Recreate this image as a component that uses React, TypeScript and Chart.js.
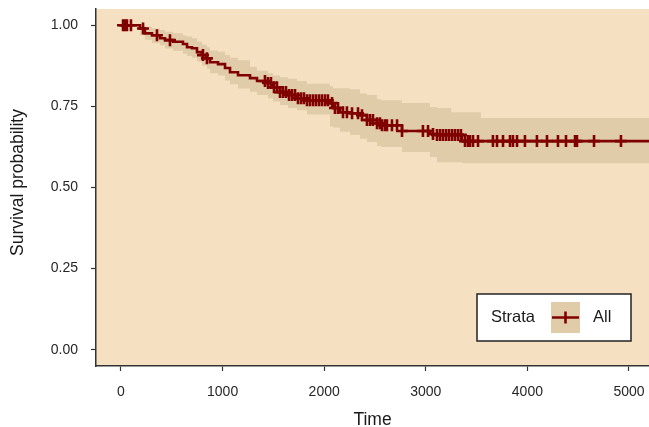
import React, { useEffect, useRef } from "react";
import { Chart, registerables } from "chart.js";

Chart.register(...registerables);

// ---- data ----
const curveTimes = [0, 187, 236, 305, 384, 433, 512, 610, 650, 699, 748, 797, 846, 876, 955, 1024, 1073, 1152, 1270, 1339, 1447, 1496, 1565, 1644, 1732, 1831, 2057, 2087, 2156, 2254, 2352, 2421, 2520, 2560, 2766, 3041, 3110, 3356, 5197];
const curveSurv = [1, 0.99, 0.975, 0.969, 0.96, 0.954, 0.949, 0.942, 0.932, 0.929, 0.917, 0.908, 0.898, 0.886, 0.88, 0.868, 0.855, 0.846, 0.837, 0.828, 0.822, 0.809, 0.794, 0.785, 0.775, 0.769, 0.76, 0.745, 0.732, 0.729, 0.723, 0.708, 0.698, 0.692, 0.674, 0.665, 0.662, 0.643, 0.643];

const bandTimes = [0, 187, 236, 305, 384, 433, 512, 610, 650, 699, 748, 797, 846, 876, 955, 1024, 1073, 1152, 1270, 1339, 1447, 1496, 1565, 1644, 1732, 1831, 2057, 2087, 2156, 2254, 2352, 2421, 2520, 2560, 2766, 3041, 3110, 3250, 3356, 3543, 5197];
const bandUpper = [1, 1, 0.995, 0.99, 0.985, 0.98, 0.975, 0.968, 0.965, 0.96, 0.95, 0.94, 0.932, 0.922, 0.918, 0.908, 0.9, 0.892, 0.872, 0.86, 0.852, 0.845, 0.84, 0.835, 0.828, 0.82, 0.812, 0.806, 0.806, 0.803, 0.79, 0.785, 0.772, 0.769, 0.76, 0.748, 0.745, 0.732, 0.732, 0.714, 0.714];
const bandLower = [1, 0.969, 0.955, 0.945, 0.938, 0.928, 0.921, 0.912, 0.905, 0.9, 0.888, 0.876, 0.866, 0.852, 0.845, 0.83, 0.818, 0.805, 0.795, 0.785, 0.775, 0.765, 0.754, 0.745, 0.738, 0.725, 0.688, 0.685, 0.672, 0.662, 0.65, 0.64, 0.628, 0.625, 0.609, 0.594, 0.578, 0.578, 0.575, 0.575, 0.575];

const censorTimes = [20, 39, 59, 98, 217, 354, 482, 807, 846, 1417, 1447, 1476, 1506, 1535, 1565, 1594, 1624, 1654, 1683, 1713, 1742, 1772, 1801, 1831, 1860, 1890, 1919, 1949, 1978, 2008, 2037, 2077, 2106, 2136, 2185, 2224, 2274, 2333, 2372, 2421, 2451, 2480, 2520, 2549, 2569, 2598, 2618, 2667, 2717, 2766, 2972, 3022, 3071, 3110, 3140, 3169, 3199, 3228, 3258, 3287, 3317, 3346, 3386, 3415, 3435, 3465, 3514, 3661, 3701, 3760, 3829, 3858, 3898, 3976, 4094, 4193, 4301, 4380, 4469, 4488, 4656, 4921];

const xTickValues = [0, 1000, 2000, 3000, 4000, 5000];
const yTickValues = [0, 0.25, 0.5, 0.75, 1];
const yTickLabels = ["0.00", "0.25", "0.50", "0.75", "1.00"];

const xTitle = "Time";
const yTitle = "Survival probability";
const legendTitle = "Strata";
const legendLabel = "All";

// ---- styles ----
const LINE = "#800000";
const BAND = "#E0CCA9";
const PANEL = "#F5E1C1";
const FONT = '"Liberation Sans", Arial, Helvetica, sans-serif';

function survAt(t: number): number {
  let s = curveSurv[0];
  for (let i = 0; i < curveTimes.length; i++) {
    if (curveTimes[i] <= t) s = curveSurv[i];
    else break;
  }
  return s;
}

const panelPlugin = {
  id: "panelBg",
  beforeDraw(chart: any) {
    const { ctx, chartArea } = chart;
    ctx.save();
    ctx.fillStyle = PANEL;
    ctx.fillRect(chartArea.left, chartArea.top, chartArea.right - chartArea.left, chartArea.bottom - chartArea.top);
    ctx.restore();
  },
};

const yTitlePlugin = {
  id: "yTitle",
  afterDraw(chart: any) {
    const { ctx, chartArea } = chart;
    ctx.save();
    ctx.translate(18, (chartArea.top + chartArea.bottom) / 2 - 5);
    ctx.rotate(-Math.PI / 2);
    ctx.fillStyle = "#1a1a1a";
    ctx.font = "17.5px " + FONT;
    ctx.textAlign = "center";
    ctx.textBaseline = "middle";
    ctx.fillText(yTitle, 0, 0);
    ctx.restore();
  },
};

const legendPlugin = {
  id: "kmLegend",
  afterDraw(chart: any) {
    const { ctx, chartArea } = chart;
    const boxR = chartArea.right - 18;
    const boxB = chartArea.bottom - 25;
    const boxW = 154;
    const boxH = 47;
    const boxL = boxR - boxW;
    const boxT = boxB - boxH;
    const cy = boxT + boxH / 2;
    ctx.save();
    ctx.fillStyle = "#ffffff";
    ctx.fillRect(boxL, boxT, boxW, boxH);
    ctx.strokeStyle = "#222222";
    ctx.lineWidth = 1.5;
    ctx.strokeRect(boxL, boxT, boxW, boxH);
    ctx.fillStyle = "#1a1a1a";
    ctx.font = "16.5px " + FONT;
    ctx.textBaseline = "middle";
    ctx.textAlign = "left";
    ctx.fillText(legendTitle, boxL + 14, cy);
    const keyL = boxL + 74;
    ctx.fillStyle = BAND;
    ctx.fillRect(keyL, boxT + 8, 29, boxH - 16);
    ctx.strokeStyle = LINE;
    ctx.lineWidth = 2.6;
    ctx.beginPath();
    ctx.moveTo(keyL + 1, cy);
    ctx.lineTo(keyL + 28, cy);
    ctx.moveTo(keyL + 14.5, cy - 6);
    ctx.lineTo(keyL + 14.5, cy + 6);
    ctx.stroke();
    ctx.fillStyle = "#1a1a1a";
    ctx.fillText(legendLabel, keyL + 42, cy);
    ctx.restore();
  },
};

function zeroPad(scale: any) {
  scale.paddingTop = 0;
  scale.paddingBottom = 0;
  scale.paddingLeft = 0;
  scale.paddingRight = 0;
}

export default function App() {
  const ref = useRef<HTMLCanvasElement | null>(null);

  useEffect(() => {
    if (!ref.current) return;
    const curve = curveTimes.map((t, i) => ({ x: t, y: curveSurv[i] }));
    const upper = bandTimes.map((t, i) => ({ x: t, y: bandUpper[i] }));
    const lower = bandTimes.map((t, i) => ({ x: t, y: bandLower[i] }));
    const censor = censorTimes.map((t) => ({ x: t, y: survAt(t) }));

    const chart = new Chart(ref.current, {
      type: "line",
      data: {
        datasets: [
          {
            data: upper,
            stepped: true,
            borderWidth: 0,
            borderColor: "rgba(0,0,0,0)",
            backgroundColor: BAND,
            pointRadius: 0,
            fill: "+1",
            order: 2,
          },
          {
            data: lower,
            stepped: true,
            borderWidth: 0,
            borderColor: "rgba(0,0,0,0)",
            pointRadius: 0,
            fill: false,
            order: 3,
          },
          {
            data: curve,
            stepped: true,
            borderWidth: 2.6,
            borderColor: LINE,
            pointRadius: 0,
            fill: false,
            order: 1,
          },
          {
            data: censor,
            showLine: false,
            pointStyle: "cross",
            pointRadius: 6,
            pointBorderWidth: 2.6,
            pointBorderColor: LINE,
            pointBackgroundColor: LINE,
            fill: false,
            order: 0,
          },
        ] as any,
      },
      options: {
        responsive: false,
        animation: false,
        devicePixelRatio: 1,
        events: [],
        layout: { autoPadding: false, padding: { top: 9, right: 0, left: 0, bottom: 0 } } as any,
        plugins: {
          legend: { display: false },
          tooltip: { enabled: false },
          filler: { drawTime: "beforeDatasetsDraw" } as any,
        },
        scales: {
          x: {
            type: "linear",
            min: -246,
            max: 5197,
            afterBuildTicks: (scale: any) => {
              scale.ticks = xTickValues.map((v) => ({ value: v }));
            },
            afterFit: (scale: any) => {
              scale.height = 61;
              zeroPad(scale);
            },
            grid: {
              drawOnChartArea: false,
              drawTicks: true,
              tickLength: 5,
              tickWidth: 1.2,
              color: "#333333",
            },
            border: { display: true, color: "#333333", width: 1.5 },
            ticks: {
              autoSkip: false,
              maxRotation: 0,
              padding: 13,
              color: "#262626",
              font: { size: 14, family: FONT },
              callback: (v: any) => String(v),
            },
            title: {
              display: true,
              text: xTitle,
              color: "#1a1a1a",
              font: { size: 17.5, family: FONT, lineHeight: 1 },
              padding: { top: 0, bottom: -2 },
            },
          },
          y: {
            type: "linear",
            min: -0.05,
            max: 1.05,
            afterBuildTicks: (scale: any) => {
              scale.ticks = yTickValues.map((v) => ({ value: v }));
            },
            afterFit: (scale: any) => {
              scale.width = 96;
              zeroPad(scale);
            },
            grid: {
              drawOnChartArea: false,
              drawTicks: true,
              tickLength: 5,
              tickWidth: 1.2,
              color: "#333333",
            },
            border: { display: true, color: "#333333", width: 1.5 },
            ticks: {
              autoSkip: false,
              padding: 13,
              color: "#262626",
              font: { size: 14, family: FONT },
              callback: (v: any) => {
                const i = yTickValues.indexOf(Number(v));
                return i >= 0 ? yTickLabels[i] : "";
              },
            },
            title: { display: false },
          },
        },
      },
      plugins: [panelPlugin, legendPlugin, yTitlePlugin],
    });
    return () => chart.destroy();
  }, []);

  return (
    <div style={{ position: "fixed", left: 0, top: 0, width: 649, height: 427, background: "#ffffff" }}>
      <canvas ref={ref} width={649} height={427} style={{ display: "block", width: 649, height: 427 }} />
    </div>
  );
}
